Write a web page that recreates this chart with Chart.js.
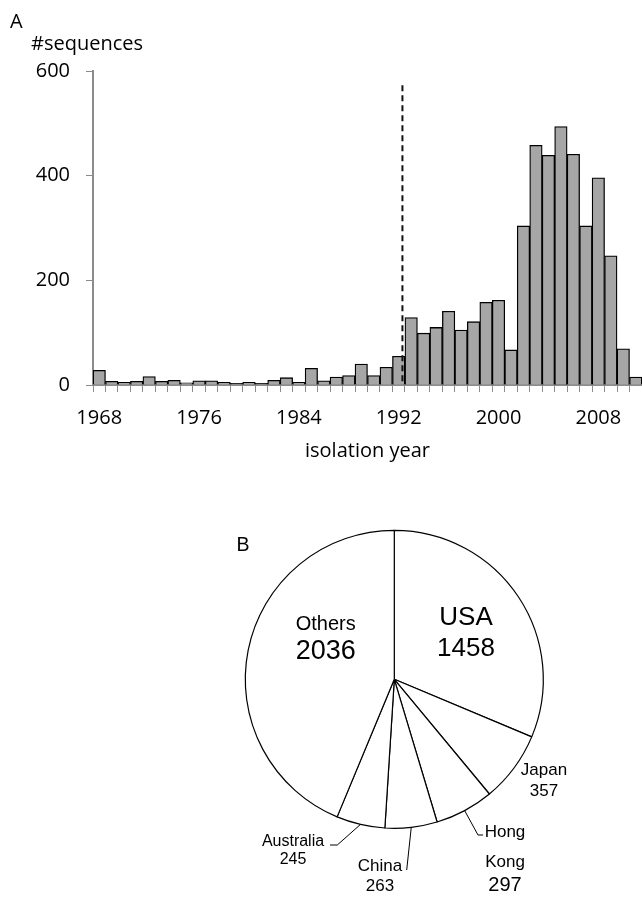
<!DOCTYPE html>
<html>
<head>
<meta charset="utf-8">
<script src="https://cdn.jsdelivr.net/npm/chart.js@4/dist/chart.umd.min.js"></script>
<style>
  body { margin: 0; background: #fff; }
  #page { position: relative; width: 642px; height: 900px; overflow: hidden; }
  .txt { position: absolute; line-height: 1; white-space: nowrap; color: #000; }
  .box { position: absolute; left: 0; width: 642px; }
</style>
</head>
<body>
<div id="page">
  <div class="box" style="top:0;height:472px"><canvas id="bars"></canvas></div>
  <div class="box" style="top:520px;height:380px"><canvas id="pie"></canvas></div>
  <div class="txt" style="left:10px;top:6.5px;font:20px 'Open Sans'">A</div>
  <div class="txt" style="left:31px;top:29px;font:20px 'Open Sans'">#sequences</div>
  <div class="txt" style="left:236.5px;top:532.5px;font:19.5px 'Liberation Sans'">B</div>
</div>
<script>
// données - histogramme par année
const years = [1968, 1969, 1970, 1971, 1972, 1973, 1974, 1975, 1976, 1977, 1978,
  1979, 1980, 1981, 1982, 1983, 1984, 1985, 1986, 1987, 1988, 1989, 1990, 1991,
  1992, 1993, 1994, 1995, 1996, 1997, 1998, 1999, 2000, 2001, 2002, 2003, 2004,
  2005, 2006, 2007, 2008, 2009, 2010, 2011];
const counts = [28, 7, 5, 7, 16, 7, 9, 4, 8, 8, 5,
  3, 5, 3, 9, 14, 5, 32, 8, 15, 18, 40, 18, 34,
  55, 129, 99, 110, 141, 105, 121, 158, 162, 67, 304, 458, 439,
  494, 441, 304, 396, 247, 69, 15];
const tickYears = [1968, 1976, 1984, 1992, 2000, 2008];
const yTicks = [0, 200, 400, 600];
const cutoffYear = 1992.3;   // ligne pointillée
const cutoffTop = 573;

// données - camembert par pays
const countries = ['USA', 'Japan', 'Hong Kong', 'China', 'Australia', 'Others'];
const totals = [1458, 357, 297, 263, 245, 2036];

// placement des étiquettes du camembert (décalage depuis le centre)
const pieLabelStyle = [
  { dx: 71.7, ys: [-61, -30.5], sizes: [26, 26] },
  { dx: 149.7, ys: [91.4, 112.4], sizes: [17, 17] },
  { dx: 110.7, ys: [152.7, 182.7, 205.7], sizes: [17, 17, 20] },
  { dx: -14.3, ys: [187.4, 207.4], sizes: [17, 17] },
  { dx: -101.3, ys: [162.4, 180.7], sizes: [16, 16] },
  { dx: -68.6, ys: [-55.3, -27.3], sizes: [20, 27] }
];
const leaderStyle = [null, null,
  [[83.7, 155.7], [88.7, 155.7]],
  [[12.4, 190.7]],
  [[-57, 165.7], [-64.3, 165.7]],
  null];

const AXIS_GREY = '#8c8c8c';
const FONT = "'Open Sans'";

const cutoffLine = {
  id: 'cutoffLine',
  afterDatasetsDraw(chart) {
    const { ctx } = chart;
    const x = chart.scales.x, y = chart.scales.y;
    const pos = cutoffYear - years[0];
    const i = Math.floor(pos);
    const p0 = x.getPixelForValue(i), p1 = x.getPixelForValue(i + 1);
    const px = p0 + (pos - i) * (p1 - p0);
    ctx.save();
    ctx.strokeStyle = '#111';
    ctx.lineWidth = 2;
    ctx.setLineDash([6, 4]);
    ctx.beginPath();
    ctx.moveTo(px, y.getPixelForValue(cutoffTop));
    ctx.lineTo(px, y.getPixelForValue(0));
    ctx.stroke();
    ctx.restore();
  }
};

new Chart(document.getElementById('bars'), {
  type: 'bar',
  data: {
    labels: years.map(String),
    datasets: [{
      data: counts,
      backgroundColor: '#a6a6a6',
      borderColor: '#000',
      borderWidth: 1.3,
      barPercentage: 1,
      categoryPercentage: 1
    }]
  },
  options: {
    responsive: true,
    maintainAspectRatio: false,
    animation: false,
    layout: { padding: { top: 71, right: 0, bottom: 9, left: 0 } },
    plugins: { legend: { display: false }, tooltip: { enabled: false } },
    scales: {
      x: {
        grid: { offset: true, drawOnChartArea: false, drawTicks: true, tickLength: 7, color: AXIS_GREY },
        border: { display: true, color: AXIS_GREY, width: 2 },
        ticks: {
          autoSkip: false, maxRotation: 0, minRotation: 0, padding: 14,
          color: '#000', font: { family: FONT, size: 20 },
          callback: (v, i) => tickYears.includes(years[i]) ? String(years[i]) : ''
        },
        title: { display: true, text: 'isolation year', color: '#000',
          font: { family: FONT, size: 20 }, padding: { top: 0, bottom: 0 } },
        afterFit: (s) => {
          s.height = 78;
          // les barres vont jusqu'au bord droit
          s.paddingLeft = 0;
          s.paddingRight = 0;
        }
      },
      y: {
        min: 0, max: 600,
        afterBuildTicks: (s) => { s.ticks = yTicks.map(v => ({ value: v })); },
        grid: { drawOnChartArea: false, drawTicks: true, tickLength: 7, color: AXIS_GREY },
        border: { display: true, color: AXIS_GREY, width: 2 },
        ticks: { padding: 16, color: '#000', font: { family: FONT, size: 20 } },
        afterFit: (s) => { s.width = 93; }
      }
    }
  },
  plugins: [cutoffLine]
});

const pieLabels = {
  id: 'pieLabels',
  afterDatasetsDraw(chart) {
    const { ctx } = chart;
    const arcs = chart.getDatasetMeta(0).data;
    ctx.save();
    ctx.fillStyle = '#000';
    ctx.strokeStyle = '#000';
    ctx.lineWidth = 1;
    ctx.textAlign = 'center';
    ctx.textBaseline = 'middle';
    arcs.forEach((arc, i) => {
      const cx = arc.x, cy = arc.y;
      const st = pieLabelStyle[i];
      const lines = countries[i].split(' ').concat(String(totals[i]));
      lines.forEach((t, k) => {
        ctx.font = st.sizes[k] + "px 'Liberation Sans'";
        ctx.fillText(t, cx + st.dx, cy + st.ys[k]);
      });
      const lead = leaderStyle[i];
      if (lead) {
        const mid = (arc.startAngle + arc.endAngle) / 2;
        ctx.beginPath();
        ctx.moveTo(cx + arc.outerRadius * Math.cos(mid), cy + arc.outerRadius * Math.sin(mid));
        lead.forEach(p => ctx.lineTo(cx + p[0], cy + p[1]));
        ctx.stroke();
      }
    });
    ctx.restore();
  }
};

new Chart(document.getElementById('pie'), {
  type: 'pie',
  data: {
    labels: countries,
    datasets: [{
      data: totals,
      backgroundColor: '#fff',
      borderColor: '#000',
      borderWidth: 1.2,
      radius: 149
    }]
  },
  options: {
    responsive: true,
    maintainAspectRatio: false,
    animation: false,
    layout: { padding: { left: 146.6, right: 0, top: 0, bottom: 61.4 } },
    plugins: { legend: { display: false }, tooltip: { enabled: false } }
  },
  plugins: [pieLabels]
});
</script>
</body>
</html>
